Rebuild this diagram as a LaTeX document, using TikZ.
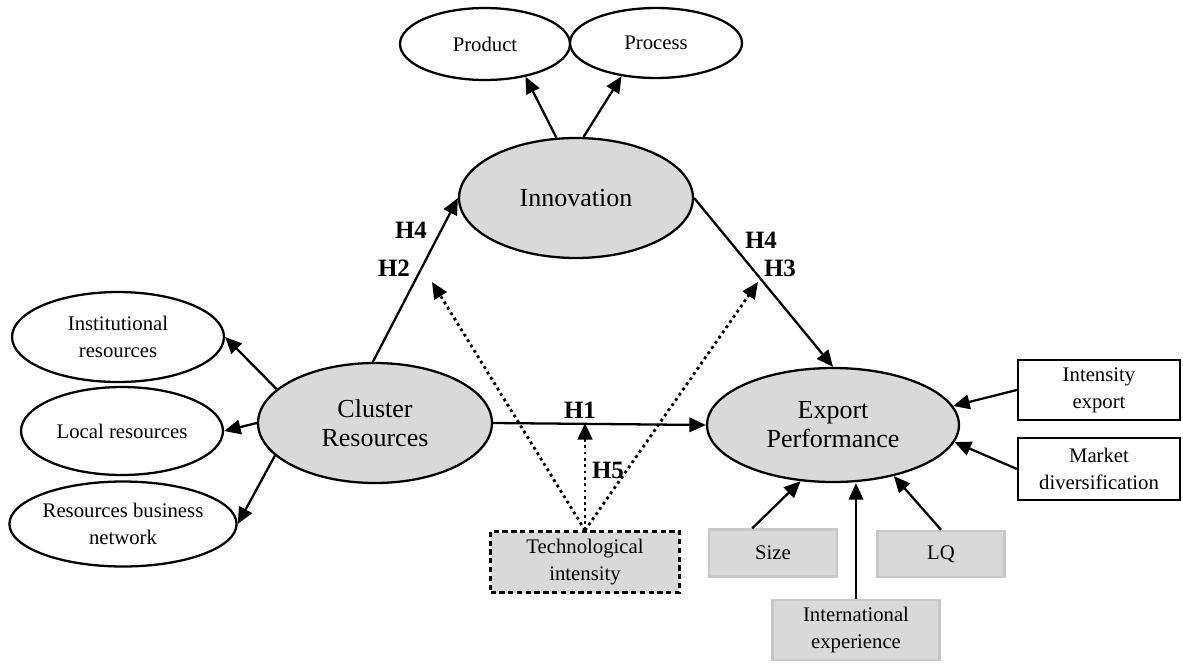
\documentclass[tikz,border=0pt]{standalone}
\usepackage{fontspec}
\setmainfont{Liberation Serif}
\usepackage{tikz}
\usetikzlibrary{arrows.meta,shapes.geometric}

\definecolor{shade}{RGB}{217,217,217}
\definecolor{rim}{RGB}{200,200,200}

\begin{document}
\begin{tikzpicture}[x=0.02cm,y=-0.02cm,>={Triangle[length=3.3mm,width=2.9mm]}]
        \tikzstyle{latent}=[ellipse, line width=1.3pt, draw=black, fill=shade, inner sep=0pt, align=center, font=\fontsize{14.8}{16.5}\selectfont]
        \tikzstyle{dimen}=[ellipse, line width=1.3pt, draw=black, fill=white, inner sep=0pt, align=center, font=\fontsize{11.8}{15.3}\selectfont]
        \tikzstyle{meas}=[rectangle, line width=1.3pt, draw=black, fill=white, inner sep=0pt, align=center, font=\fontsize{11.8}{15.3}\selectfont]
        \tikzstyle{ctrl}=[rectangle, line width=1.4pt, draw=rim, fill=shade, inner sep=0pt, align=center, font=\fontsize{11.8}{15.3}\selectfont]
        \tikzstyle{moder}=[rectangle, line width=1.4pt, dash pattern=on 3pt off 2pt, draw=black, fill=shade, inner sep=0pt, align=center, font=\fontsize{11.8}{15.3}\selectfont]
        \tikzstyle{hyp}=[font=\fontsize{14.2}{16}\selectfont\bfseries]
        \tikzstyle{path}=[->, line width=1.3pt]
        \tikzstyle{mod}=[->, line width=1.6pt, dotted]
        \useasboundingbox (0,0) rectangle (1183,663);
        % constructs
        \node [latent, minimum width=4.68cm, minimum height=2.4cm] (innov) at (576,198) {Innovation};
        \node [latent, minimum width=4.68cm, minimum height=2.4cm] (clus) at (375,423) {Cluster\\Resources};
        \node [latent, minimum width=5.04cm, minimum height=2.28cm] (export) at (833,425) {Export\\Performance};
        % dimensions
        \node [dimen, minimum width=3.4cm, minimum height=1.44cm] (prod) at (485,44) {Product};
        \node [dimen, minimum width=3.44cm, minimum height=1.4cm] (proc) at (656,43) {Process};
        \node [dimen, minimum width=4.24cm, minimum height=1.8cm] (inst) at (118,337) {Institutional\\resources};
        \node [dimen, minimum width=4.04cm, minimum height=1.76cm] (local) at (122,431) {Local resources};
        \node [dimen, minimum width=4.16cm, minimum height=1.7cm] (net) at (123,524) {Resources business\\network};
        \node [meas, minimum width=3.24cm, minimum height=1.2cm] (iexp) at (1099,390) {Intensity\\export};
        \node [meas, minimum width=3.24cm, minimum height=1.24cm] (mkt) at (1099,469) {Market\\diversification};
        % controls and moderator
        \node [ctrl, minimum width=2.56cm, minimum height=0.94cm] (size) at (773,553) {Size};
        \node [ctrl, minimum width=2.54cm, minimum height=0.92cm] (lq) at (941,554) {LQ};
        \node [ctrl, minimum width=3.34cm, minimum height=1.2cm] (intl) at (856,630) {International\\experience};
        \node [moder, minimum width=3.78cm, minimum height=1.22cm] (tech) at (585,562) {Technological\\intensity};
        \coordinate (tH2) at (432,282);
        \coordinate (tH3) at (758,282);
        \coordinate (tH1) at (585,423);
        % moderating effects
        \draw [mod] (tech.north) -- (tH2);
        \draw [mod] (tech.north) -- (tH3);
        \draw [mod] (tech.north) -- (tH1);
        % hypotheses
        \draw [path] (clus.92) -- (innov.west);
        \draw [path] (innov.east) -- (export.north);
        \draw [path] (clus.east) -- (export.west);
        % reflective dimensions
        \draw [path] (innov.108) -- (prod.321);
        \draw [path] (innov.83) -- (proc.224);
        \draw [path] (clus.161) -- (inst.east);
        \draw [path] (clus.west) -- (local.east);
        \draw [path] (clus.198) -- (net.east);
        \draw [path] (iexp.west) -- (export.9);
        \draw [path] (mkt.west) -- (export.352);
        \draw [path] (size.130) -- (export.240);
        \draw [path] (intl.north) -- (intl.north |- export.south);
        \draw [path] (lq.north) -- (export.320);
        % labels
        \node [hyp] (h4a) at (411,230) {H4};
        \node [hyp] (h2) at (394,268) {H2};
        \node [hyp] (h4b) at (761,240) {H4};
        \node [hyp] (h3) at (780,268) {H3};
        \node [hyp] (h1) at (580,410) {H1};
        \node [hyp] (h5) at (608,470) {H5};
\end{tikzpicture}
\end{document}
